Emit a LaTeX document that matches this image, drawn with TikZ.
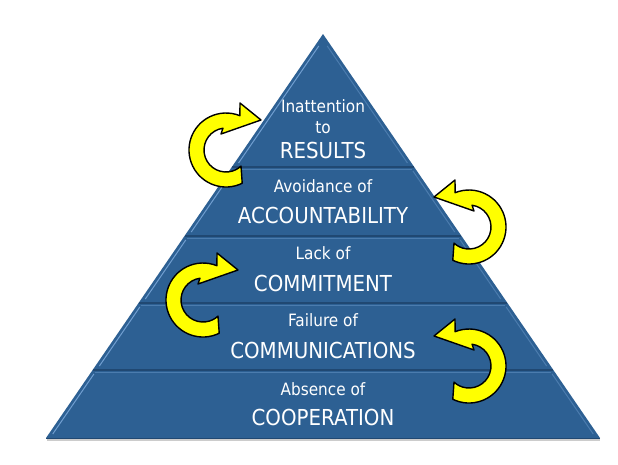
\documentclass[tikz,border=0pt]{standalone}
\usepackage{fontspec}
\setmainfont{DejaVu Sans}[FakeStretch=0.9]
\usetikzlibrary{calc}
\definecolor{pyrblue}{RGB}{45,96,147}
\definecolor{pyrdark}{RGB}{32,72,114}
\definecolor{pyrlight}{RGB}{112,158,208}
\definecolor{arrowyellow}{RGB}{255,255,0}

\begin{document}
\begin{tikzpicture}[x=1pt, y=-1pt,
    small/.style={text=white, font=\fontsize{17}{17}\selectfont, anchor=base, inner sep=0pt},
    big/.style={text=white, font=\fontsize{22}{22}\selectfont, anchor=base, inner sep=0pt},
    arrowfill/.style={fill=arrowyellow, draw=black, line width=1.4pt, line join=round},
    pics/bendarrow/.style={code={
      \begin{scope}[y=1pt]
        \filldraw[arrowfill] (296:37) arc[start angle=296, end angle=68, radius=37]
          -- (14,47) -- (35,30) -- (-5,16) -- (98:22)
          arc[start angle=98, end angle=313, radius=22] -- cycle;
      \end{scope}}}]
  \useasboundingbox (0,0) rectangle (618,464);
  % Pyramid body
  \coordinate (apex) at (323,34);
  \coordinate (bl) at (46,438);
  \coordinate (br) at (600,438);
  \draw[black!20, line width=1.2pt] (47,440) -- (600,440);
  \fill[pyrblue] (apex) -- (bl) -- (br) -- cycle;
  \draw[pyrdark, line width=1pt] (bl) -- (br);
  % Layer separators
  \foreach \y in {167,236,303,370}{
    \pgfmathsetmacro{\dx}{0.6856*(\y-34)}
    \draw[pyrdark, line width=1.5pt] ({323-\dx},\y) -- ({323+\dx},\y);
    \draw[pyrlight!45!pyrblue, line width=0.6pt] ({323-\dx+2},\y+2) -- ({323+\dx-2},\y+2);
  }
  % Bevel highlights
  \foreach \ya/\yb in {46/163,171/232,240/299,307/366,374/434}{
    \draw[pyrlight, line width=1pt] ({323-0.6856*(\yb-34)+4},\yb) -- ({323-0.6856*(\ya-34)+4},\ya);
    \draw[pyrlight!45!pyrblue, line width=1pt] ({323+0.6856*(\yb-34)-4},\yb) -- ({323+0.6856*(\ya-34)-4},\ya);
  }
  % Layer texts
  \node[small] (res1) at (323,112) {Inattention};
  \node[small] (res2) at (323,133) {to};
  \node[big]   (res3) at (323,158) {RESULTS};
  \node[small] (acc1) at (323,192) {Avoidance of};
  \node[big]   (acc2) at (323,223) {ACCOUNTABILITY};
  \node[small] (cmt1) at (323,259) {Lack of};
  \node[big]   (cmt2) at (323,291) {COMMITMENT};
  \node[small] (cmm1) at (323,326) {Failure of};
  \node[big]   (cmm2) at (323,358) {COMMUNICATIONS};
  \node[small] (coo1) at (323,395) {Absence of};
  \node[big]   (coo2) at (323,425) {COOPERATION};
  % Curved arrows
  \pic at (226,150) {bendarrow};
  \pic at (203,300) {bendarrow};
  \pic[xscale=-1] at (469,227) {bendarrow};
  \pic[xscale=-1] at (469,366) {bendarrow};
\end{tikzpicture}
\end{document}
